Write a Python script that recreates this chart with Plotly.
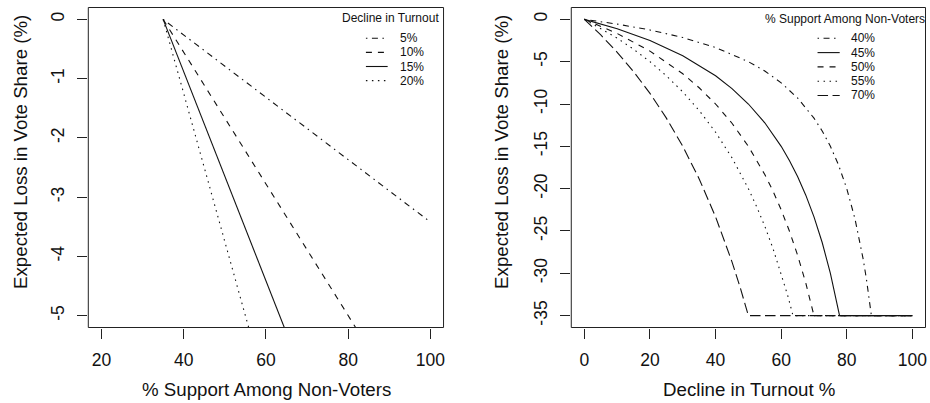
import plotly.graph_objects as go

# ---------------- data ----------------
# Left panel: expected loss vs % support among non-voters, by decline in turnout
support_pts = [35, 100]
loss_decline_5 = [0, -3.42]
loss_decline_10 = [0, -7.22]
loss_decline_15 = [0, -11.47]
loss_decline_20 = [0, -16.25]
left_names = ["5%", "10%", "15%", "20%"]

# Right panel: expected loss vs decline in turnout, by % support among non-voters
decline_40 = [0, 10, 20, 30, 40, 50, 55, 60, 65, 70, 72.5, 75, 77.5, 80, 82.5, 85, 86, 87, 87.5, 100]
loss_40 = [0, -0.56, -1.25, -2.14, -3.33, -5.0, -6.11, -7.5, -9.29, -11.67, -13.18, -15.0, -17.22,
           -20.0, -23.57, -28.33, -30.71, -33.46, -35, -35]
decline_45 = [0, 10, 20, 30, 40, 45, 50, 55, 60, 62.5, 65, 67.5, 70, 72.5, 75, 76.5, 77.8, 100]
loss_45 = [0, -1.11, -2.5, -4.29, -6.67, -8.18, -10.0, -12.22, -15.0, -16.67, -18.57, -20.77, -23.33,
           -26.36, -30.0, -32.55, -35, -35]
decline_50 = [0, 10, 20, 30, 35, 40, 45, 50, 55, 57.5, 60, 62.5, 65, 67.5, 70, 100]
loss_50 = [0, -1.67, -3.75, -6.43, -8.08, -10.0, -12.27, -15.0, -18.33, -20.29, -22.5, -25.0, -27.86,
           -31.15, -35, -35]
decline_55 = [0, 10, 15, 20, 25, 30, 35, 40, 45, 50, 52.5, 55, 57.5, 60, 62, 63.6, 100]
loss_55 = [0, -2.22, -3.53, -5.0, -6.67, -8.57, -10.77, -13.33, -16.36, -20.0, -22.11, -24.44, -27.06,
           -30.0, -32.63, -35, -35]
decline_70 = [0, 5, 10, 15, 20, 25, 30, 35, 40, 42.5, 45, 47.5, 50, 100]
loss_70 = [0, -1.84, -3.89, -6.18, -8.75, -11.67, -15.0, -18.85, -23.33, -25.87, -28.64, -31.67, -35, -35]
right_names = ["40%", "45%", "50%", "55%", "70%"]

left_xticks = [20, 40, 60, 80, 100]
left_yticks = [0, -1, -2, -3, -4, -5]
left_yticklabels = ["0", "-1", "-2", "-3", "-4", "-5"]
right_xticks = [0, 20, 40, 60, 80, 100]
right_yticks = [0, -5, -10, -15, -20, -25, -30, -35]
right_yticklabels = ["0", "-5", "-10", "-15", "-20", "-25", "-30", "-35"]

# ---------------- styles ----------------
FONT = "Liberation Sans, Arial, Helvetica, sans-serif"
LC = "#111111"
LW = 1.1
DOTDASH = "1.5px,4.5px,6px,4.5px"
DASHED = "6px,6px"
DOTTED = "1.5px,4.5px"
LONGDASH = "10.5px,4.5px"
SOLID = "solid"
TICK_SIZE = 17.5
TITLE_SIZE = 18.7
LEG_SIZE = 12

W, H = 930, 403


def px(x):
    return x / W


def py(y):
    return 1 - y / H


fig = go.Figure()

left_series = [loss_decline_5, loss_decline_10, loss_decline_15, loss_decline_20]
left_dash = [DOTDASH, DASHED, SOLID, DOTTED]
for name, ys, d in zip(left_names, left_series, left_dash):
    fig.add_trace(go.Scatter(x=support_pts, y=ys, mode="lines", name=name,
                             line=dict(color=LC, width=LW, dash=d),
                             xaxis="x", yaxis="y", showlegend=False))

right_x = [decline_40, decline_45, decline_50, decline_55, decline_70]
right_y = [loss_40, loss_45, loss_50, loss_55, loss_70]
right_dash = [DOTDASH, SOLID, DASHED, DOTTED, LONGDASH]
for name, xs, ys, d in zip(right_names, right_x, right_y, right_dash):
    fig.add_trace(go.Scatter(x=xs, y=ys, mode="lines", name=name,
                             line=dict(color=LC, width=LW, dash=d),
                             xaxis="x2", yaxis="y2", showlegend=False))

axis_common = dict(showline=False, showgrid=False, zeroline=False, ticks="outside", ticklen=10,
                   tickwidth=1, tickcolor="#222222",
                   tickfont=dict(family=FONT, size=TICK_SIZE, color="#111111"))

# plot box pixel edges
L1, R1 = 88.5, 444.5
L2, R2 = 572.5, 927.5
TOP, BOT = 7.5, 327.5

y_dom = [py(BOT), py(TOP)]
fig.update_layout(
    width=W, height=H,
    margin=dict(l=0, r=0, t=0, b=0),
    paper_bgcolor="white", plot_bgcolor="white",
    font=dict(family=FONT, color="#111111"),
    xaxis=dict(domain=[px(L1), px(R1)], range=[16.8, 103.2], tickvals=left_xticks,
               anchor="y", ticklabelstandoff=6, **axis_common),
    yaxis=dict(domain=y_dom, range=[-5.2, 0.2], tickvals=left_yticks, ticktext=left_yticklabels,
               tickangle=-90, anchor="x", ticklabelstandoff=6, **axis_common),
    xaxis2=dict(domain=[px(L2), px(R2)], range=[-4, 104], tickvals=right_xticks,
                anchor="y2", ticklabelstandoff=6, **axis_common),
    yaxis2=dict(domain=y_dom, range=[-36.4, 1.4], tickvals=right_yticks, ticktext=right_yticklabels,
                tickangle=-90, anchor="x2", ticklabelstandoff=6, **axis_common),
)

annotations = []
shapes = []
# plot boxes (paper coords, not clipped)
for l, r in [(L1, R1), (L2, R2)]:
    shapes.append(dict(type="rect", xref="paper", yref="paper", x0=px(l), x1=px(r), y0=py(BOT), y1=py(TOP),
                       line=dict(color="#222222", width=1), fillcolor="rgba(0,0,0,0)", layer="above"))

# axis titles
annotations.append(dict(text="% Support Among Non-Voters", x=px(267), y=py(389), xref="paper", yref="paper",
                        showarrow=False, font=dict(family=FONT, size=TITLE_SIZE), xanchor="center", yanchor="middle"))
annotations.append(dict(text="Decline in Turnout %", x=px(751), y=py(389), xref="paper", yref="paper",
                        showarrow=False, font=dict(family=FONT, size=TITLE_SIZE), xanchor="center", yanchor="middle"))
annotations.append(dict(text="Expected Loss in Vote Share (%)", x=px(20), y=py(152), xref="paper", yref="paper",
                        showarrow=False, font=dict(family=FONT, size=TITLE_SIZE), textangle=-90,
                        xanchor="center", yanchor="middle"))
annotations.append(dict(text="Expected Loss in Vote Share (%)", x=px(502), y=py(152), xref="paper", yref="paper",
                        showarrow=False, font=dict(family=FONT, size=TITLE_SIZE), textangle=-90,
                        xanchor="center", yanchor="middle"))

# legends (drawn manually to match spacing)
annotations.append(dict(text="Decline in Turnout", x=px(442), y=py(18.3), xref="paper", yref="paper",
                        showarrow=False, font=dict(family=FONT, size=LEG_SIZE), xanchor="right", yanchor="middle"))
left_leg_y = [38.3, 52.4, 66.5, 80.6]
for name, d, yy in zip(left_names, left_dash, left_leg_y):
    shapes.append(dict(type="line", xref="paper", yref="paper", x0=px(366.7), x1=px(388.5),
                       y0=py(yy), y1=py(yy), line=dict(color=LC, width=LW, dash=d)))
    annotations.append(dict(text=name, x=px(398.5), y=py(yy), xref="paper", yref="paper", showarrow=False,
                            font=dict(family=FONT, size=LEG_SIZE), xanchor="left", yanchor="middle"))

annotations.append(dict(text="% Support Among Non-Voters", x=px(929), y=py(18.5), xref="paper", yref="paper",
                        showarrow=False, font=dict(family=FONT, size=LEG_SIZE), xanchor="right", yanchor="middle"))
right_leg_y = [38.3, 52.6, 66.9, 81.2, 95.5]
for name, d, yy in zip(right_names, right_dash, right_leg_y):
    shapes.append(dict(type="line", xref="paper", yref="paper", x0=px(819.3), x1=px(841.5),
                       y0=py(yy), y1=py(yy), line=dict(color=LC, width=LW, dash=d)))
    annotations.append(dict(text=name, x=px(851), y=py(yy), xref="paper", yref="paper", showarrow=False,
                            font=dict(family=FONT, size=LEG_SIZE), xanchor="left", yanchor="middle"))

fig.update_layout(annotations=annotations, shapes=shapes)

fig.write_html("out.html", config={"displayModeBar": False},
               post_script="document.body.style.margin='0px';")
